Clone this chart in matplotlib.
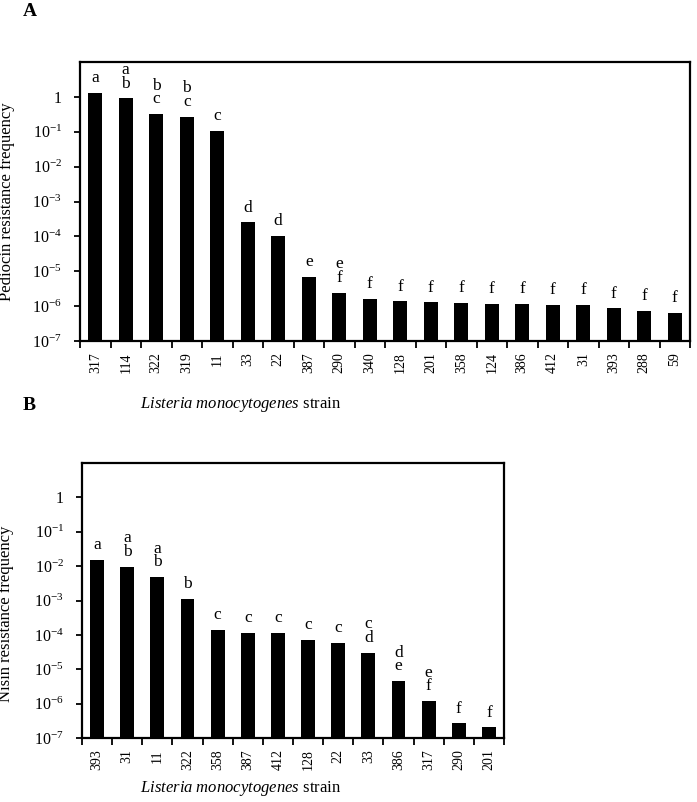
import matplotlib
matplotlib.use("Agg")
import matplotlib.pyplot as plt
import numpy as np

plt.rcParams['font.family'] = ['Liberation Serif', 'DejaVu Serif']
plt.rcParams['mathtext.fontset'] = 'custom'
plt.rcParams['mathtext.rm'] = 'Liberation Serif'
plt.rcParams['mathtext.it'] = 'Liberation Serif:italic'

# panel A: pediocin
strains_a = ['317', '114', '322', '319', '11', '33', '22', '387', '290', '340',
             '128', '201', '358', '124', '386', '412', '31', '393', '288', '59']
freq_a = [1.3, 0.9, 0.32, 0.27, 0.105, 2.5e-4, 1.0e-4, 6.7e-6, 2.4e-6, 1.6e-6,
          1.35e-6, 1.27e-6, 1.22e-6, 1.17e-6, 1.15e-6, 1.1e-6, 1.05e-6, 8.5e-7, 7.3e-7, 6.3e-7]
groups_a = ['a', 'a\nb', 'b\nc', 'b\nc', 'c', 'd', 'd', 'e', 'e\nf', 'f',
            'f', 'f', 'f', 'f', 'f', 'f', 'f', 'f', 'f', 'f']

# panel B: nisin
strains_b = ['393', '31', '11', '322', '358', '387', '412', '128', '22', '33',
             '386', '317', '290', '201']
freq_b = [1.5e-2, 9.5e-3, 4.7e-3, 1.1e-3, 1.4e-4, 1.15e-4, 1.15e-4, 7.3e-5, 5.9e-5, 3.0e-5,
          4.5e-6, 1.17e-6, 2.6e-7, 2.0e-7]
groups_b = ['a', 'a\nb', 'a\nb', 'b', 'c', 'c', 'c', 'c', 'c', 'c\nd',
            'd\ne', 'e\nf', 'f', 'f']

ytick_vals = [1e-7, 1e-6, 1e-5, 1e-4, 1e-3, 1e-2, 1e-1, 1]
ytick_labels = [r'10$^{-7}$', r'10$^{-6}$', r'10$^{-5}$', r'10$^{-4}$',
                r'10$^{-3}$', r'10$^{-2}$', r'10$^{-1}$', '1']

W, H = 697, 802
fig = plt.figure(figsize=(W / 100, H / 100), dpi=100)


def panel(rect, strains, freq, groups, ylabel, ylab_x, ylab_y):
    ax = fig.add_axes(rect)
    x = np.arange(len(strains))
    ax.bar(x, freq, width=0.46, color='black', bottom=1e-8)
    ax.set_yscale('log')
    ax.set_ylim(1e-7, 10)
    ax.set_xlim(-0.5, len(strains) - 0.5)
    ax.set_yticks(ytick_vals)
    ax.set_yticklabels(ytick_labels, fontsize=11.5)
    ax.yaxis.set_minor_locator(matplotlib.ticker.NullLocator())
    ax.tick_params(axis='y', direction='out', length=4, width=1.3, pad=9)
    # ticks at category boundaries, labels at centres
    ax.set_xticks(np.arange(len(strains) + 1) - 0.5)
    ax.set_xticklabels([])
    ax.set_xticks(x, minor=True)
    ax.set_xticklabels(strains, minor=True, rotation=90, fontsize=10)
    ax.tick_params(axis='x', which='major', direction='out', length=5, width=1.3)
    ax.tick_params(axis='x', which='minor', length=0, pad=8)
    for s in ax.spines.values():
        s.set_linewidth(1.6)
    for xi, v, g in zip(x, freq, groups):
        ax.annotate(g, (xi, v), xytext=(0, 5), textcoords='offset points',
                    ha='center', va='bottom', fontsize=12.5, linespacing=0.8)
    ax.set_ylabel(ylabel, fontsize=12)
    ax.yaxis.set_label_coords(ylab_x, ylab_y)
    return ax


panel([80 / W, 1 - 341 / H, 610 / W, 279 / H], strains_a, freq_a, groups_a,
      'Pediocin resistance frequency', -0.107, 0.5)
panel([82 / W, 1 - 738 / H, 422 / W, 275 / H], strains_b, freq_b, groups_b,
      'Nisin resistance frequency', -0.16, 0.45)

for yy in [404, 788]:
    fig.text(241 / W, 1 - yy / H, r'$\mathit{Listeria\ monocytogenes}$ strain',
             ha='center', va='center', fontsize=12)

fig.text(30 / W, 1 - 12 / H, 'A', fontsize=14, fontweight='bold', ha='center', va='center')
fig.text(29 / W, 1 - 406 / H, 'B', fontsize=14, fontweight='bold', ha='center', va='center')

fig.savefig('out.png', dpi=100)
